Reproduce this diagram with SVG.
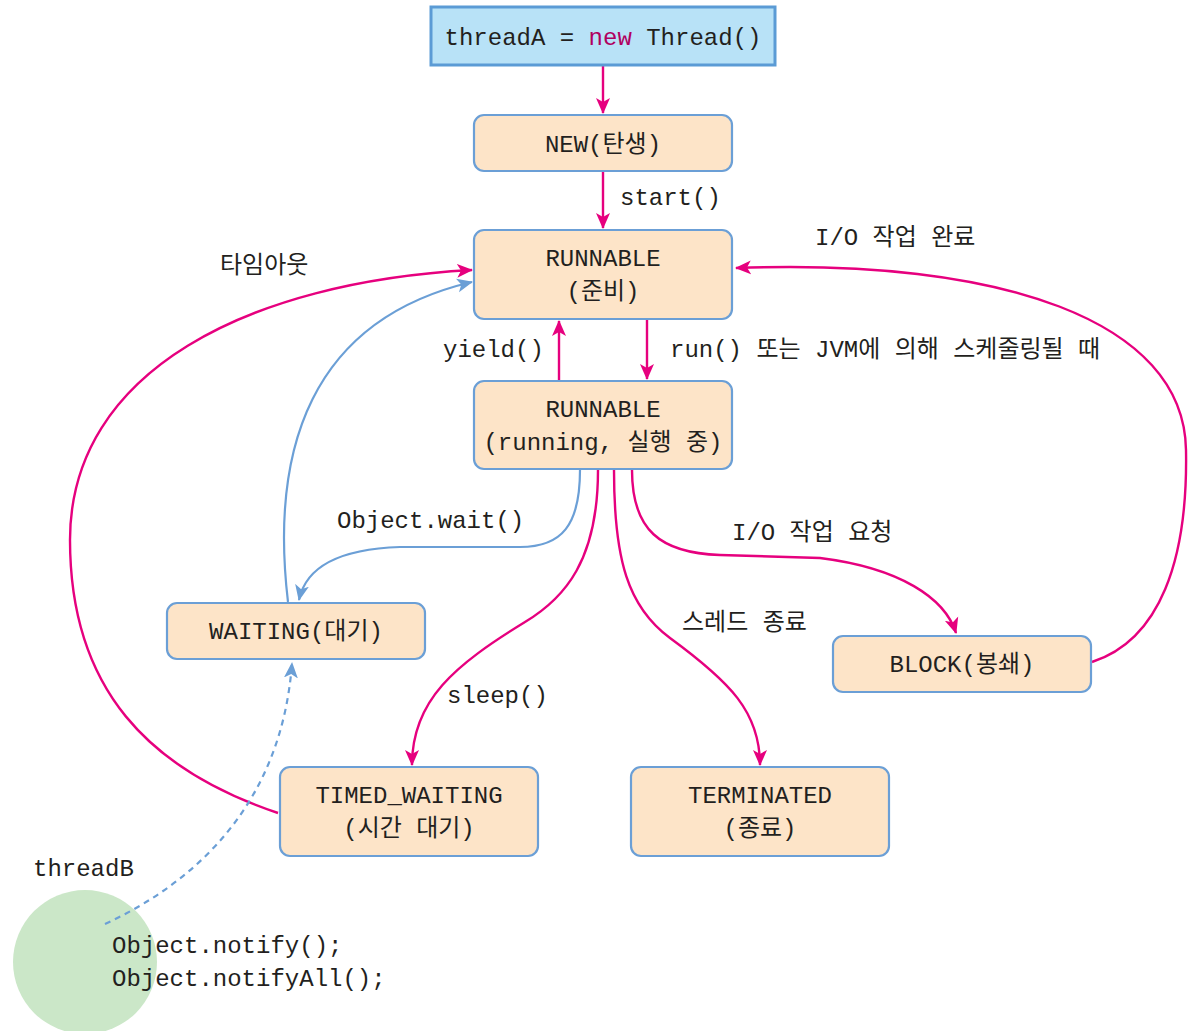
<svg xmlns="http://www.w3.org/2000/svg" width="1189" height="1031" viewBox="0 0 1189 1031">
<style>
.t{font-family:"Liberation Mono","Noto Sans CJK KR",monospace;font-size:24px;fill:#231f20}
.c{text-anchor:middle}
.box{fill:#fde4c8;stroke:#6b9fd6;stroke-width:2.2}
.p{fill:none;stroke:#e6007e;stroke-width:2.4}
.b{fill:none;stroke:#6b9fd6;stroke-width:2.2}
</style>
<defs>
<marker id="ap" markerUnits="userSpaceOnUse" markerWidth="16" markerHeight="16" viewBox="0 0 16 16" refX="15" refY="8" orient="auto"><path d="M0,1 L16,8 L0,15 L4,8 Z" fill="#e6007e"/></marker>
<marker id="ab" markerUnits="userSpaceOnUse" markerWidth="16" markerHeight="16" viewBox="0 0 16 16" refX="15" refY="8" orient="auto"><path d="M0,1 L16,8 L0,15 L4,8 Z" fill="#6b9fd6"/></marker>
</defs>
<rect width="1189" height="1031" fill="#ffffff"/>
<circle cx="85" cy="962" r="72" fill="#cbe7c8"/>
<g id="connectors">
<path class="p" d="M603,66 L603,113" marker-end="url(#ap)"/>
<path class="p" d="M603,172 L603,228" marker-end="url(#ap)"/>
<path class="p" d="M559,380 L559,321" marker-end="url(#ap)"/>
<path class="p" d="M647,320 L647,379" marker-end="url(#ap)"/>
<path class="b" d="M580,470 C580,525 562,547 520,547 L400,547 C340,549 306,566 299,600" marker-end="url(#ab)"/>
<path class="b" d="M288,602 C270,450 310,320 472,282" marker-end="url(#ab)"/>
<path class="p" d="M278,813 C150,770 70,690 70,540 C70,370 250,282 472,270" marker-end="url(#ap)"/>
<path class="p" d="M598,470 C598,560 565,598 525,622 C455,665 412,700 412,765" marker-end="url(#ap)"/>
<path class="p" d="M614,470 C614,560 628,607 670,638 C730,682 760,712 760,765" marker-end="url(#ap)"/>
<path class="p" d="M632,470 C632,530 660,553 720,555 L820,558 C900,568 945,598 956,633" marker-end="url(#ap)"/>
<path class="p" d="M1092,662 C1160,640 1188,560 1186,450 C1184,320 1000,258 736,268" marker-end="url(#ap)"/>
<path class="b" d="M105,924 C200,880 282,800 292,663" stroke-dasharray="6,5" marker-end="url(#ab)"/>
</g>
<g id="start">
<rect x="431" y="7" width="344" height="58" fill="#b8e2f7" stroke="#5b9bd5" stroke-width="3"/>
<text class="t c" x="603" y="45">threadA = <tspan fill="#b0005f">new</tspan> Thread()</text>
</g>
<g id="new"><rect class="box" x="474" y="115" width="258" height="56" rx="10"/><text class="t c" x="603" y="152">NEW(탄생)</text></g>
<g id="runnable"><rect class="box" x="474" y="230" width="258" height="89" rx="10"/><text class="t c" x="603" y="266">RUNNABLE</text><text class="t c" x="603" y="299">(준비)</text></g>
<g id="running"><rect class="box" x="474" y="381" width="258" height="88" rx="10"/><text class="t c" x="603" y="417">RUNNABLE</text><text class="t c" x="603" y="450">(running, 실행 중)</text></g>
<g id="waiting"><rect class="box" x="167" y="603" width="258" height="56" rx="10"/><text class="t c" x="296" y="639">WAITING(대기)</text></g>
<g id="block"><rect class="box" x="833" y="636" width="258" height="56" rx="10"/><text class="t c" x="962" y="672">BLOCK(봉쇄)</text></g>
<g id="timed"><rect class="box" x="280" y="767" width="258" height="89" rx="10"/><text class="t c" x="409" y="803">TIMED_WAITING</text><text class="t c" x="409" y="836">(시간 대기)</text></g>
<g id="terminated"><rect class="box" x="631" y="767" width="258" height="89" rx="10"/><text class="t c" x="760" y="803">TERMINATED</text><text class="t c" x="760" y="836">(종료)</text></g>
<g id="labels">
<text class="t" x="620" y="205">start()</text>
<text class="t" x="443" y="357">yield()</text>
<text class="t" x="670" y="357">run() 또는 JVM에 의해 스케줄링될 때</text>
<text class="t" x="220" y="273">타임아웃</text>
<text class="t" x="815" y="245">I/O 작업 완료</text>
<text class="t" x="337" y="528">Object.wait()</text>
<text class="t" x="732" y="540">I/O 작업 요청</text>
<text class="t" x="682" y="630">스레드 종료</text>
<text class="t" x="447" y="703">sleep()</text>
<text class="t" x="33" y="876">threadB</text>
<text class="t" x="112" y="953">Object.notify();</text>
<text class="t" x="112" y="986">Object.notifyAll();</text>
</g>
</svg>
